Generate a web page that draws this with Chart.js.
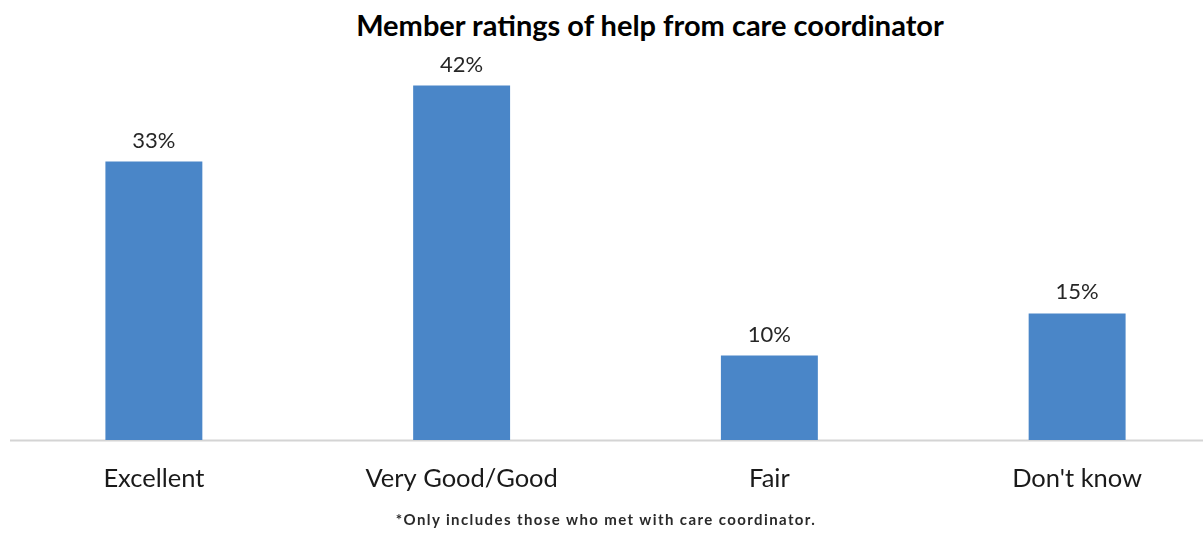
<!DOCTYPE html>
<html>
<head>
<meta charset="utf-8">
<script src="https://cdn.jsdelivr.net/npm/chart.js@4/dist/chart.umd.min.js"></script>
<style>
  html, body { margin: 0; padding: 0; background: #ffffff; overflow: hidden; }
  body { width: 1203px; height: 533px; position: relative; }
  #wrap { position: absolute; left: 0; top: 0; width: 1231px; height: 533px; }
  .txt { position: absolute; transform: translateX(-50%); white-space: nowrap; font-family: Lato, "Open Sans", sans-serif; line-height: 1; }
  #title { left: 650px; top: 10px; font-size: 29px; font-weight: 700; color: #000; }
  #note { left: 606px; top: 512px; font-size: 15px; font-weight: 700; letter-spacing: 1.4px; color: #2a2a2a; }
</style>
</head>
<body>
<div id="title" class="txt">Member ratings of help from care coordinator</div>
<div id="wrap"><canvas id="chart"></canvas></div>
<div id="note" class="txt">*Only includes those who met with care coordinator.</div>
<script>
// Survey categories and the share of members choosing each
const categories = ["Excellent", "Very Good/Good", "Fair", "Don't know"];
const shares = [33, 42, 10, 15];

const BAR_COLOR = "#4a86c8";

// Light baseline under the bars
const baselinePlugin = {
  id: "baseline",
  beforeDatasetsDraw(chart) {
    const y = Math.round(chart.scales.y.getPixelForValue(0)) + 0.5;
    const ctx = chart.ctx;
    ctx.save();
    ctx.strokeStyle = "#d4d4d4";
    ctx.lineWidth = 2;
    ctx.beginPath();
    ctx.moveTo(10, y);
    ctx.lineTo(chart.width, y);
    ctx.stroke();
    ctx.restore();
  }
};

// Percentage labels above each bar
const valueLabels = {
  id: "valueLabels",
  afterDatasetsDraw(chart) {
    const ctx = chart.ctx;
    const meta = chart.getDatasetMeta(0);
    ctx.save();
    ctx.font = "22px Lato, 'Open Sans', sans-serif";
    ctx.fillStyle = "#262626";
    ctx.textAlign = "center";
    ctx.textBaseline = "middle";
    meta.data.forEach((bar, i) => {
      const v = chart.data.datasets[0].data[i];
      ctx.fillText(v + "%", bar.x, bar.y - 21);
    });
    ctx.restore();
  }
};

new Chart(document.getElementById("chart"), {
  type: "bar",
  data: {
    labels: categories,
    datasets: [{
      data: shares,
      backgroundColor: BAR_COLOR,
      borderWidth: 0,
      categoryPercentage: 1,
      barPercentage: 0.315
    }]
  },
  options: {
    responsive: true,
    maintainAspectRatio: false,
    animation: false,
    layout: { padding: { top: 18, left: 0, right: 0, bottom: 0 } },
    plugins: {
      legend: { display: false },
      tooltip: { enabled: false }
    },
    scales: {
      x: {
        grid: { display: false, drawTicks: false },
        border: { display: false },
        ticks: {
          color: "#1a1a1a",
          padding: 23,
          font: { family: "Lato, 'Open Sans', sans-serif", size: 25.5 }
        },
        afterFit(scale) { scale.height = 93; }
      },
      y: {
        display: false,
        min: 0,
        max: 50
      }
    }
  },
  plugins: [baselinePlugin, valueLabels]
});
</script>
</body>
</html>
